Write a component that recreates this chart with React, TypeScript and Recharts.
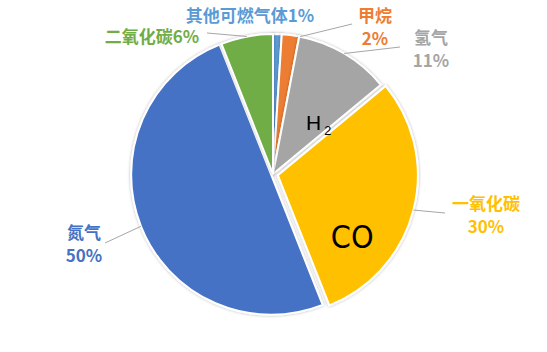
import React from 'react';
import { PieChart, Pie, Cell } from 'recharts';

// Gas composition (percent by volume)
const gasNames = ['其他可燃气体', '甲烷', '氢气', '一氧化碳', '氮气', '二氧化碳'];
const gasShares = [1, 2, 11, 30, 50, 6];
const gasFormulas = ['', '', 'H2', 'CO', '', ''];

const gasColors = ['#5B9BD5', '#ED7D31', '#A5A5A5', '#FFC000', '#4472C4', '#70AD47'];

const rows = gasNames.map((name, i) => ({ name, value: gasShares[i] }));

const W = 547;
const H = 352;
const CX = 273;
const CY = 174;
const R = 140;
const RADIAN = Math.PI / 180;

// how far each slice is pulled out of the pie
const explode = [0, 0, 0, 5, 2, 0];

// data label placement: text centre and the outer end of its leader line
const labelLayout: { x: number; y: number; oneLine?: boolean; anchor?: [number, number] }[] = [
  { x: 250, y: 14, oneLine: true },
  { x: 375, y: 14, anchor: [352, 24] },
  { x: 431, y: 36, anchor: [400, 47] },
  { x: 486, y: 202, anchor: [445, 213] },
  { x: 84, y: 231, anchor: [105, 243] },
  { x: 152, y: 35, oneLine: true, anchor: [207, 33] },
];

// leader lines meet the slice edge at this angle shift (degrees, clockwise)
const anchorShift = [0, -4, 0, 0, 0, 0];

// formula text drawn inside a slice, start point offset from the slice's own centre
const formulaLayout: Record<number, { dx: number; dy: number; size: number; font: string }> = {
  2: { dx: 33, dy: -44, size: 21, font: "'Liberation Sans', sans-serif" },
  3: { dx: 53, dy: 73, size: 32, font: "'Liberation Sans Narrow', 'DejaVu Sans Condensed', 'Liberation Sans', sans-serif" },
};

const total = gasShares.reduce((a, b) => a + b, 0);
const offsets = gasShares.map((v, i) => {
  const before = gasShares.slice(0, i).reduce((a, b) => a + b, 0);
  const theta = ((before + v / 2) / total) * 360 * RADIAN;
  return { dx: explode[i] * Math.sin(theta), dy: -explode[i] * Math.cos(theta) };
});

const LABEL_FONT = "'Noto Sans CJK SC', 'Noto Sans', sans-serif";

function renderFormula(text: string, x: number, y: number, size: number, font: string) {
  const parts = text.match(/[A-Za-z]+|\d+/g) || [];
  return (
    <text x={x} y={y} fontSize={size} fontFamily={font} fill="#000">
      {parts.map((p, k) =>
        /\d/.test(p) ? (
          <tspan key={k} fontSize={size * 0.6} dx={3} dy={size * 0.22}>
            {p}
          </tspan>
        ) : (
          <tspan key={k}>{p}</tspan>
        )
      )}
    </text>
  );
}

const makeLabel = (own: number) => (props: any) => {
  const { index, cx, cy, midAngle, outerRadius, percent, name } = props;
  if (index !== own) return null;
  const lay = labelLayout[index];
  const color = gasColors[index];
  const pct = `${Math.round(percent * 100)}%`;
  const a = (midAngle + anchorShift[index]) * RADIAN;
  const ex = cx + outerRadius * Math.cos(-a);
  const ey = cy + outerRadius * Math.sin(-a);
  const f = formulaLayout[index];
  return (
    <g>
      {f && gasFormulas[index] ? renderFormula(gasFormulas[index], cx + f.dx, cy + f.dy, f.size, f.font) : null}
      {lay.anchor ? (
        <line x1={ex} y1={ey} x2={lay.anchor[0]} y2={lay.anchor[1]} stroke="#A6A6A6" strokeWidth={1} />
      ) : null}
      {lay.oneLine ? (
        <text
          x={lay.x}
          y={lay.y}
          textAnchor="middle"
          dominantBaseline="central"
          fontSize={17}
          fontWeight="bold"
          fontFamily={LABEL_FONT}
          fill={color}
        >
          {name}
          {pct}
        </text>
      ) : (
        <text textAnchor="middle" fontSize={17} fontWeight="bold" fontFamily={LABEL_FONT} fill={color}>
          <tspan x={lay.x} y={lay.y} dominantBaseline="central">
            {name}
          </tspan>
          <tspan x={lay.x} y={lay.y + 23} dominantBaseline="central">
            {pct}
          </tspan>
        </text>
      )}
    </g>
  );
};

export default function App() {
  return (
    <div style={{ position: 'absolute', left: 0, top: 0, width: W, height: H, background: '#fff' }}>
      <PieChart width={W} height={H} margin={{ top: 0, right: 0, bottom: 0, left: 0 }}>
        <defs>
          <filter id="sliceShadow" x="-20%" y="-20%" width="140%" height="140%">
            <feDropShadow dx="0" dy="0" stdDeviation="1.5" floodColor="#000" floodOpacity="0.3" />
          </filter>
        </defs>
        {rows.map((_, own) => (
          <Pie
            key={own}
            data={rows}
            dataKey="value"
            nameKey="name"
            cx={CX + offsets[own].dx}
            cy={CY + offsets[own].dy}
            outerRadius={R}
            startAngle={90}
            endAngle={-270}
            stroke="#fff"
            strokeWidth={2}
            label={makeLabel(own)}
            labelLine={false}
            isAnimationActive={false}
          >
            {rows.map((r, j) =>
              j === own ? (
                <Cell key={r.name} fill={gasColors[j]} filter="url(#sliceShadow)" />
              ) : (
                <Cell key={r.name} fill="none" stroke="none" />
              )
            )}
          </Pie>
        ))}
      </PieChart>
    </div>
  );
}
